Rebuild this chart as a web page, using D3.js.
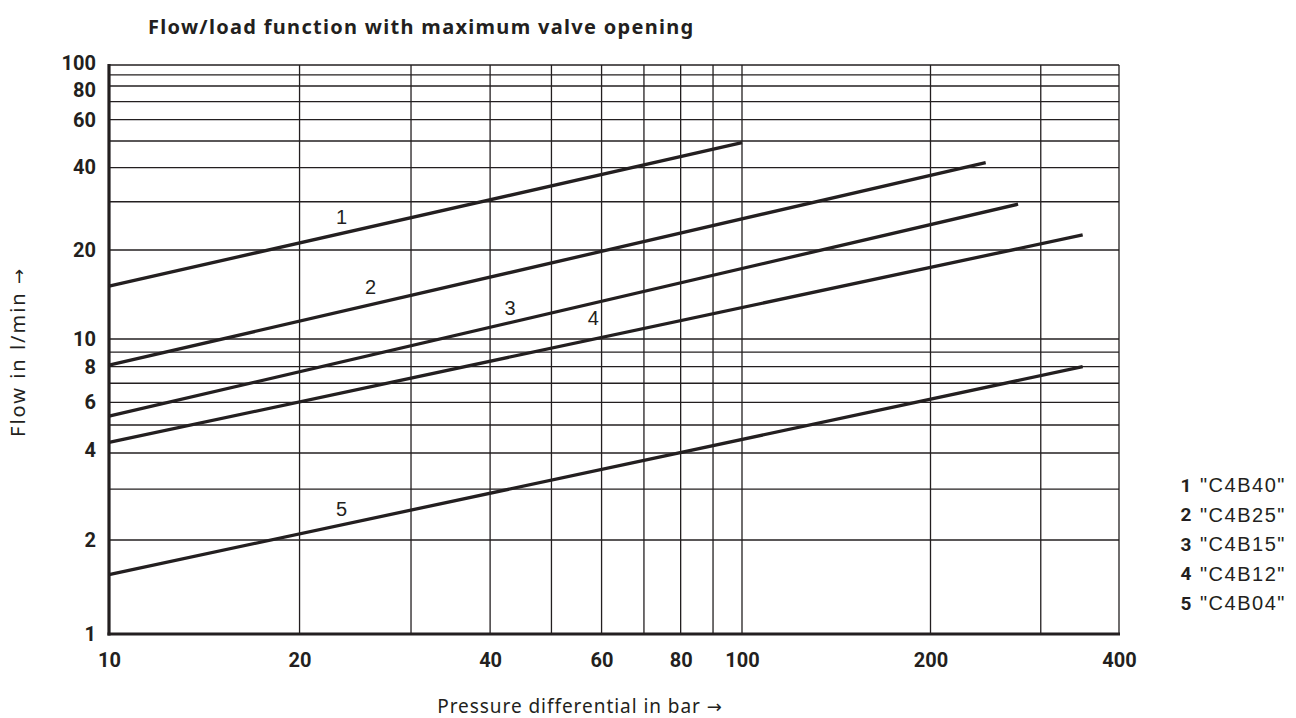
<!DOCTYPE html>
<html>
<head>
<meta charset="utf-8">
<script src="https://cdn.jsdelivr.net/npm/d3@7"></script>
<style>
  html, body { margin: 0; padding: 0; background: #fff; }
  svg { display: block; }
  text { fill: #231f20; }
</style>
</head>
<body>
<svg id="chart" width="1296" height="718"></svg>
<script>
// ---- data ----
const xTicks = [10, 20, 40, 60, 80, 100, 200, 400];
const yTicks = [1, 2, 4, 6, 8, 10, 20, 40, 60, 80, 100];
const xGrid = [20, 30, 40, 50, 60, 70, 80, 90, 100, 200, 300, 400];
const yGrid = [2, 3, 4, 5, 6, 7, 8, 9, 10, 20, 30, 40, 50, 60, 70, 80, 90, 100];

const seriesIds   = [1, 2, 3, 4, 5];
const seriesNames = ['"C4B40"', '"C4B25"', '"C4B15"', '"C4B12"', '"C4B04"'];
const startX = [10, 10, 10, 10, 10];
const startY = [15.1, 8.1, 5.37, 4.35, 1.55];
const endX   = [100, 245, 276, 350, 350];
const endY   = [49.3, 41.7, 29.4, 22.7, 8.0];
const labelX = [23.3, 25.9, 43, 58.2, 23.3];
const labelY = [26.5, 15.0, 12.7, 11.8, 2.56];

const title = "Flow/load function with maximum valve opening";
const xTitle = "Pressure differential in bar";
const yTitle = "Flow in l/min";
const arrow = "\u2192";

// ---- scales (piecewise log to follow the printed grid) ----
const x = d3.scaleLog().domain([10, 100, 400]).range([109, 742, 1119]);
const y = d3.scaleLog().domain([1, 2, 5, 10, 20, 50, 80, 100]).range([634, 540, 425, 339, 250, 141, 86, 65]);

const svg = d3.select("#chart");
const ink = "#231f20";

// title
svg.append("text")
  .attr("x", 148).attr("y", 34)
  .attr("font-family", "Noto Sans, sans-serif")
  .attr("font-weight", "bold").attr("font-size", 20)
  .attr("letter-spacing", 1.3)
  .text(title);

// grid
const g = svg.append("g");
g.selectAll("line.hg").data(yGrid).join("line")
  .attr("x1", x(10)).attr("x2", x(400))
  .attr("y1", d => y(d)).attr("y2", d => y(d))
  .attr("stroke", ink).attr("stroke-width", 1.3);
g.selectAll("line.vg").data(xGrid).join("line")
  .attr("x1", d => x(d)).attr("x2", d => x(d))
  .attr("y1", y(1)).attr("y2", y(100))
  .attr("stroke", ink).attr("stroke-width", 1.3);

// axes (thick)
g.append("line").attr("x1", x(10)).attr("x2", x(10))
  .attr("y1", y(100) - 1).attr("y2", y(1) + 1.5)
  .attr("stroke", ink).attr("stroke-width", 3.2);
g.append("line").attr("x1", x(10) - 1.5).attr("x2", x(400) + 1)
  .attr("y1", y(1)).attr("y2", y(1))
  .attr("stroke", ink).attr("stroke-width", 3.2);

// tick labels
const xAxis = d3.axisBottom(x).tickValues(xTicks).tickSize(0).tickPadding(19).tickFormat(d3.format("d"));
const xa = svg.append("g").attr("transform", `translate(0,${y(1)})`).call(xAxis);
xa.select(".domain").remove();
xa.selectAll("text").attr("font-family", "Roboto, sans-serif").attr("font-weight", "bold")
  .attr("font-size", 20).attr("fill", ink);

const yAxis = d3.axisLeft(y).tickValues(yTicks).tickSize(0).tickPadding(13).tickFormat(d3.format("d"));
const ya = svg.append("g").attr("transform", `translate(${x(10)},0)`).call(yAxis);
ya.select(".domain").remove();
ya.selectAll("text").attr("font-family", "Roboto, sans-serif").attr("font-weight", "bold")
  .attr("font-size", 20).attr("fill", ink);
ya.selectAll(".tick").filter(d => d === 100).select("text").attr("dy", "0.2em");
ya.selectAll(".tick").filter(d => d === 80).select("text").attr("dy", "0.5em");
ya.selectAll(".tick").filter(d => d === 4).select("text").attr("dy", "0.15em");

// series lines
const lines = seriesIds.map((id, i) => ({ id, pts: [[startX[i], startY[i]], [endX[i], endY[i]]] }));
svg.append("g").selectAll("path").data(lines).join("path")
  .attr("d", d => d3.line().x(p => x(p[0])).y(p => y(p[1]))(d.pts))
  .attr("fill", "none").attr("stroke", ink).attr("stroke-width", 3.3);

// in-plot labels
svg.append("g").selectAll("text").data(seriesIds).join("text")
  .attr("x", (d, i) => x(labelX[i])).attr("y", (d, i) => y(labelY[i]))
  .attr("dy", "0.35em").attr("text-anchor", "middle")
  .attr("font-family", "Liberation Sans, Arial, sans-serif").attr("font-size", 20)
  .text(d => d);

// legend
const leg = svg.append("g");
seriesIds.forEach((id, i) => {
  const ly = 485 + i * 29.5;
  leg.append("text").attr("x", 1186).attr("y", ly).attr("dy", "0.35em")
    .attr("text-anchor", "middle")
    .attr("font-family", "Roboto, sans-serif").attr("font-weight", "bold").attr("font-size", 19)
    .text(id);
  leg.append("text").attr("x", 1200).attr("y", ly).attr("dy", "0.35em")
    .attr("font-family", "Liberation Sans, Arial, sans-serif").attr("font-size", 20)
    .attr("letter-spacing", 1.5)
    .text(seriesNames[i]);
});

// axis titles
const xt = svg.append("text").attr("x", 580).attr("y", 706).attr("dy", "0.35em").attr("text-anchor", "middle")
  .attr("font-family", "Noto Sans, sans-serif").attr("font-size", 19).attr("letter-spacing", 0.95);
xt.append("tspan").text(xTitle + " ");
xt.append("tspan").attr("font-family", "DejaVu Sans, sans-serif").attr("font-size", 18).text(arrow);

const yt = svg.append("text").attr("transform", "translate(18,352) rotate(-90)").attr("dy", "0.35em")
  .attr("text-anchor", "middle")
  .attr("font-family", "Noto Sans, sans-serif").attr("font-size", 20).attr("letter-spacing", 2);
yt.append("tspan").text(yTitle + " ");
yt.append("tspan").attr("font-family", "DejaVu Sans, sans-serif").attr("font-size", 18).text(arrow);
</script>
</body>
</html>
